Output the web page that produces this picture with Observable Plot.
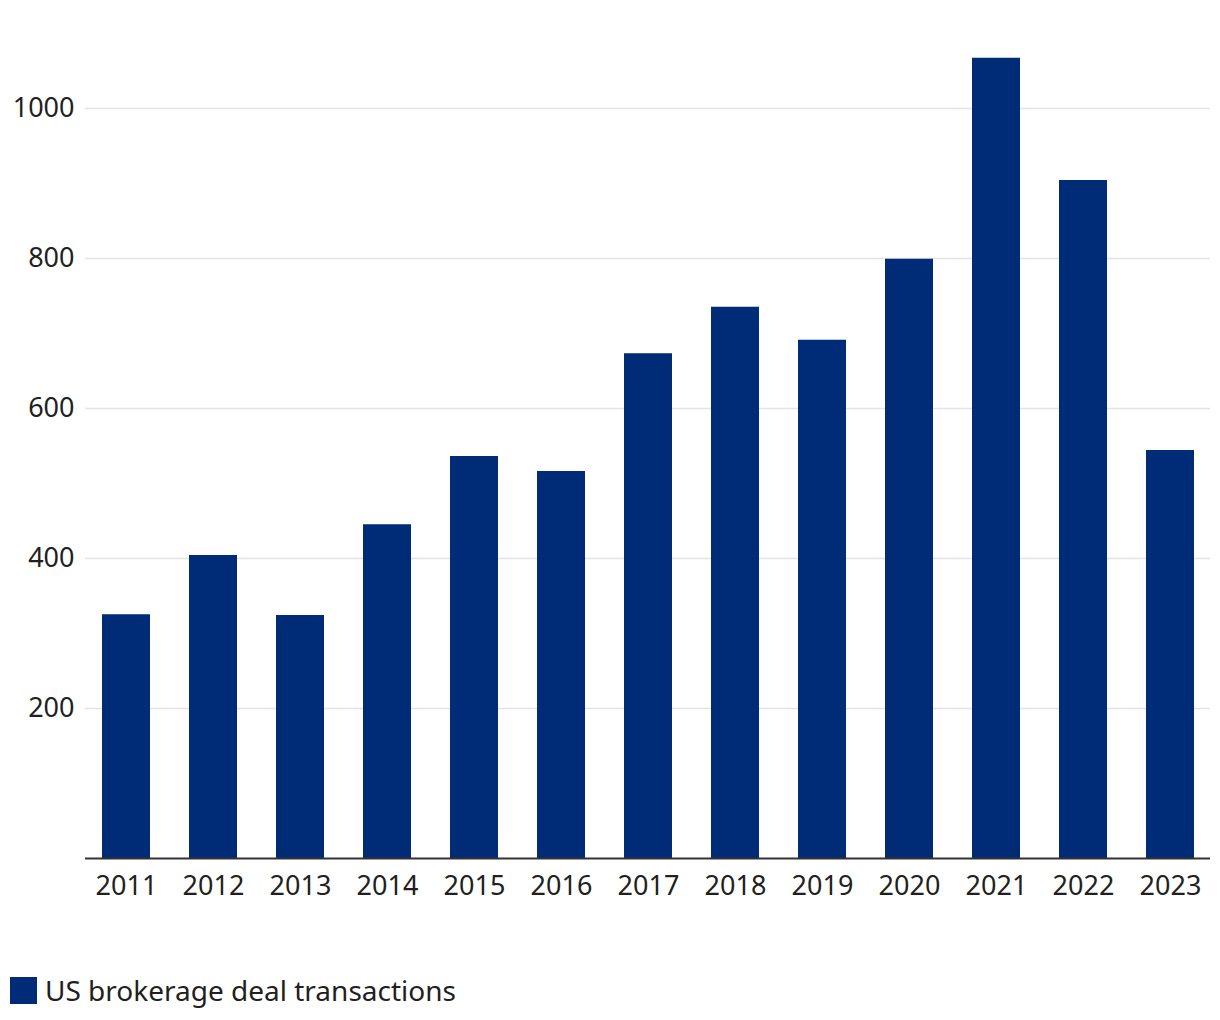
<!DOCTYPE html>
<html>
<head>
<meta charset="utf-8">
<script src="https://cdn.jsdelivr.net/npm/d3@7"></script>
<script src="https://cdn.jsdelivr.net/npm/@observablehq/plot@0.6"></script>
<style>
  html, body { margin: 0; padding: 0; background: #fff; }
  body { width: 1220px; height: 1020px; font-family: "Noto Sans", "Open Sans", sans-serif; color: #231f20; }
  #legend { position: absolute; left: 10px; top: 970px; display: flex; align-items: center; font-size: 28px; line-height: 40px; }
  #legend .sw { width: 27px; height: 27px; background: #002b76; margin-right: 8px; }
</style>
</head>
<body>
<div id="chart"></div>
<div id="legend"><div class="sw"></div><span>US brokerage deal transactions</span></div>
<script>
const years = ["2011","2012","2013","2014","2015","2016","2017","2018","2019","2020","2021","2022","2023"];
const deals = [325, 404, 324, 445, 536, 516, 673, 735, 691, 799, 1067, 904, 544];
const yTicks = [200, 400, 600, 800, 1000];
const seriesName = "US brokerage deal transactions";
const barColor = "#002b76";

const data = years.map((y, i) => ({year: y, value: deals[i]}));

const chart = Plot.plot({
  width: 1220,
  height: 930,
  marginLeft: 85,
  marginRight: 10,
  marginTop: 33,
  marginBottom: 72,
  style: {fontFamily: "'Noto Sans', 'Open Sans', sans-serif", fontSize: "27px", color: "#231f20", background: "#fff"},
  x: {domain: years, paddingInner: 0.45, paddingOuter: 0.19, label: null},
  y: {domain: [0, 1100], label: null},
  marks: [
    Plot.gridY(yTicks, {stroke: "#e3e3e3", strokeOpacity: 1, strokeWidth: 1.5}),
    Plot.barY(data, {x: "year", y: "value", fill: barColor}),
    Plot.ruleY([0], {stroke: "#333", strokeWidth: 2}),
    Plot.axisY(yTicks, {tickSize: 0, tickPadding: 11, fontSize: 27, fill: "#231f20", label: null, tickFormat: d => String(d)}),
    Plot.axisX({tickSize: 0, tickPadding: 17, fontSize: 27, fill: "#231f20", label: null})
  ]
});
document.getElementById("chart").appendChild(chart);
</script>
</body>
</html>
